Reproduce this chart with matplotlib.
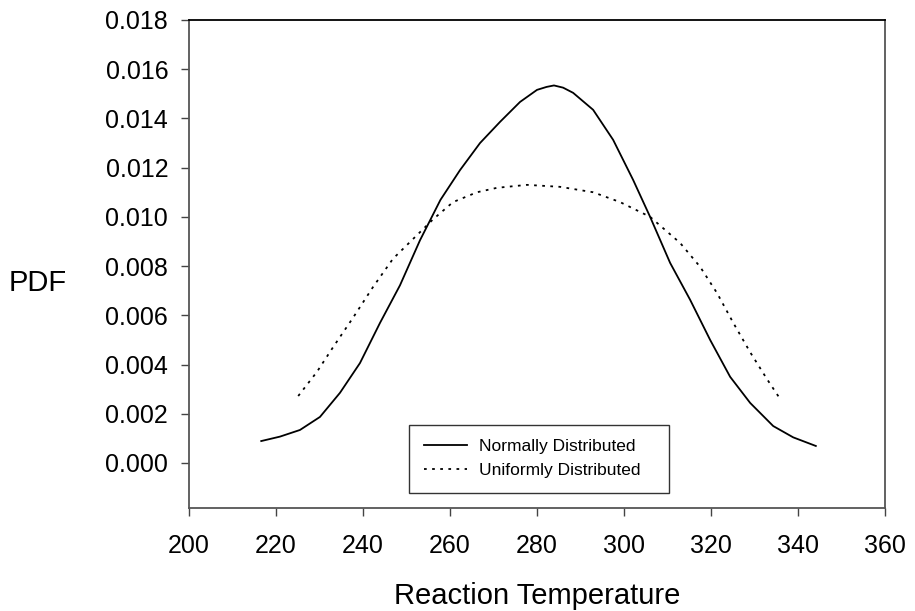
import matplotlib
matplotlib.use('Agg')
import matplotlib.pyplot as plt

plt.rcParams['font.family'] = ['Liberation Sans', 'DejaVu Sans']

# values
normal_x = [216.6, 220.9, 225.5, 230.1, 234.7, 239.3, 243.9, 248.5, 253.1, 257.8, 262.3,
            266.9, 271.5, 276.1, 280.0, 282.2, 283.9, 286.0, 288.3, 292.9, 297.5, 302.1, 306.0,
            310.6, 315.2, 319.8, 324.4, 329.0, 334.3, 338.9, 344.1]
normal_y = [0.00089, 0.00107, 0.00134, 0.00187, 0.00285, 0.00406, 0.00569, 0.00722, 0.00905, 0.01069, 0.01190,
            0.01300, 0.01386, 0.01467, 0.01516, 0.01528, 0.01534, 0.01525, 0.01504, 0.01435, 0.01313, 0.01150, 0.01000,
            0.00813, 0.00663, 0.00500, 0.00350, 0.00244, 0.00150, 0.00104, 0.00069]

uniform_x = [225.1, 229.4, 233.1, 237.7, 242.3, 246.9, 251.5, 256.1, 260.7, 266.2,
             270.8, 277.7, 285.3, 292.9, 299.1, 306.0, 312.9, 317.5, 321.4, 325.1,
             329.0, 332.9, 335.6]
uniform_y = [0.00272, 0.00370, 0.00470, 0.00590, 0.00715, 0.00830, 0.00910, 0.00990, 0.01060, 0.01100,
             0.01118, 0.01130, 0.01122, 0.01100, 0.01060, 0.01000, 0.00894, 0.00797, 0.00690, 0.00570,
             0.00450, 0.00340, 0.00268]

x_ticks = [200, 220, 240, 260, 280, 300, 320, 340, 360]
y_ticks = [0.000, 0.002, 0.004, 0.006, 0.008, 0.010, 0.012, 0.014, 0.016, 0.018]

fig = plt.figure(figsize=(9.15, 6.11), dpi=100)
ax = fig.add_axes([0.2066, 0.1686, 0.7606, 0.7987])

ax.plot(normal_x, normal_y, color='black', linewidth=1.3, label='Normally Distributed')
ax.plot(uniform_x, uniform_y, color='black', linewidth=1.3, linestyle=(0, (1.5, 3)),
        label='Uniformly Distributed')

ax.set_xlim(200, 360)
ax.set_ylim(-0.00183, 0.018)
ax.set_xticks(x_ticks)
ax.set_xticklabels([str(v) for v in x_ticks])
ax.set_yticks(y_ticks)
ax.set_yticklabels(['%.3f' % v for v in y_ticks])

ax.tick_params(axis='both', direction='out', length=6, width=1, labelsize=18, color='#444444')
ax.tick_params(axis='x', pad=13)
ax.tick_params(axis='y', pad=9)

for side in ['left', 'bottom', 'right']:
    ax.spines[side].set_color('#555555')
    ax.spines[side].set_linewidth(1.3)
ax.spines['top'].set_color('black')
ax.spines['top'].set_linewidth(1.3)

ax.set_xlabel('Reaction Temperature', fontsize=21, labelpad=17)
ax.set_ylabel('PDF', fontsize=21, rotation=0, ha='center', va='center')
ax.yaxis.set_label_coords(-0.2175, 0.461)

leg = ax.legend(loc='lower left', bbox_to_anchor=(0.316, 0.0307, 0.3736, 0.1455), mode='expand',
                borderaxespad=0, fontsize=12.5, frameon=True, fancybox=False, handlelength=2.5,
                borderpad=0.85, labelspacing=0.5, handletextpad=0.7)
leg.get_frame().set_edgecolor('black')
leg.get_frame().set_linewidth(1.0)

fig.savefig('out.png', dpi=100)
